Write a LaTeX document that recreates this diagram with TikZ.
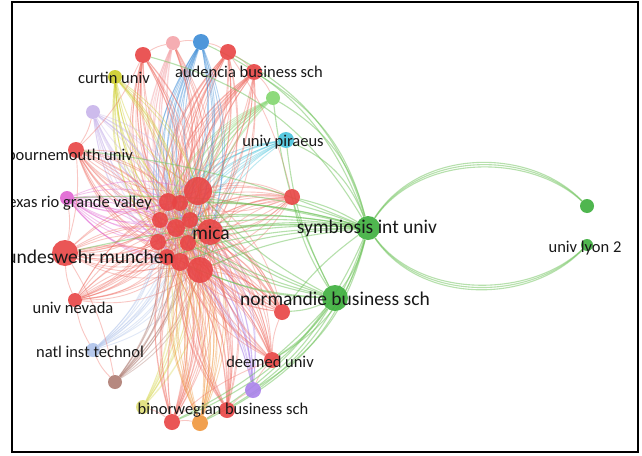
\documentclass[tikz,border=0pt]{standalone}
\usepackage{fontspec}
\setmainfont{Carlito}
\usetikzlibrary{backgrounds}
\definecolor{cR}{RGB}{232,68,68}
\definecolor{cPk}{RGB}{245,165,170}
\definecolor{cB}{RGB}{60,140,215}
\definecolor{cLG}{RGB}{130,215,110}
\definecolor{cC}{RGB}{70,195,220}
\definecolor{cY}{RGB}{205,205,40}
\definecolor{cLav}{RGB}{200,180,235}
\definecolor{cMg}{RGB}{225,100,210}
\definecolor{cLB}{RGB}{175,195,235}
\definecolor{cBr}{RGB}{175,125,115}
\definecolor{cLY}{RGB}{225,225,120}
\definecolor{cOr}{RGB}{240,150,60}
\definecolor{cPu}{RGB}{170,130,235}
\definecolor{cG}{RGB}{60,175,60}
\definecolor{eR}{RGB}{240,110,100}
\definecolor{eG}{RGB}{110,195,90}
\definecolor{lblc}{RGB}{25,25,25}
\begin{document}
\begin{tikzpicture}[x=1pt,y=-1pt,
  nd/.style={circle,inner sep=0pt,minimum size=#1,draw=none},
  lbl/.style={text=lblc,font=\fontsize{16.5}{16.5}\selectfont,inner sep=0pt},
  biglbl/.style={text=lblc,font=\fontsize{19.5}{19.5}\selectfont,inner sep=0pt},
  redge/.style={draw=#1,opacity=0.38,line width=0.9pt},
  gedge/.style={draw=eG,opacity=0.5,line width=1.1pt},
]
\useasboundingbox (0,0) rectangle (642,455);
% nodes
\begin{scope}
\clip (13,3) rectangle (637,451);
\foreach \n/\x/\y/\d/\c in {
  t1/143/55/16/cR, t2/173/43/14/cPk, t3/201/42/16/cB, t4/228/52/16/cR,
  t5/254/72/16/cR, g1/273/98/14/cLG, cy/286/140/16/cC, cu/115/77/14/cY,
  lav/93/112/14/cLav, bo/76/150/16/cR, tx/67/198/14/cMg, r6/292/197/16/cR,
  bu/65/253/26/cR, nv/75/300/14/cR, na/93/350/14/cLB, br/115/382/14/cBr,
  lyy/143/407/14/cLY, b1/172/422/16/cR, or/200/423/16/cOr, b2/227/410/16/cR,
  pu/253/390/16/cPu, de/272/360/16/cR, nr/282/312/16/cR,
  c1/198/191/28/cR, c2/168/202/18/cR, c3/180/203/16/cR, c4/160/220/16/cR,
  c5/176/228/18/cR, c6/190/220/16/cR, c8/158/242/16/cR, c9/188/243/16/cR,
  c10/167/257/16/cR, c11/180/262/18/cR, c7/210/232/26/cR, c12/200/270/26/cR,
  sym/368/228/24/cG, norm/335/298/26/cG, l1/587/206/14/cG, l2/587/245/12/cG}
  \node[nd=\d pt,fill=\c,fill opacity=0.9] (\n) at (\x,\y) {};
\end{scope}
% edges
\begin{scope}[on background layer]
\fill[white] (0,0) rectangle (642,455);
\clip (13,3) rectangle (637,451);
\foreach \p/\c in {t1/eR,t2/cPk,t3/cB,t4/eR,t5/eR,g1/cLG,cy/cC,cu/cY,lav/cLav,
  bo/eR,tx/cMg,r6/eR,bu/eR,nv/eR,na/cLB,br/cBr,lyy/cLY,b1/eR,or/cOr,b2/eR,
  pu/cPu,de/eR,nr/eR}
  \foreach \q in {c1,c2,c3,c4,c5,c6,c7,c8,c9,c10,c11,c12}
    \draw[redge=\c] (\q) to[bend left=20] (\p);
\foreach \p/\c in {t1/eR,t2/eR,t3/cB,t4/eR,t5/eR,bo/eR,bu/eR,nv/eR,b1/eR,or/cOr,b2/eR,de/eR,nr/eR,r6/eR,cu/cY,lav/cLav,tx/cMg}
  \foreach \q in {c1,c3,c5,c7,c9,c11,c12}
    \draw[redge=\c] (\q) to[bend right=18] (\p);
\foreach \a/\b in {t1/t2,t2/t3,t3/t4,t4/t5,t5/g1,bo/bu,tx/bu,lav/bo,nv/bu,na/nv,
  br/na,lyy/b1,b1/or,or/b2,b2/pu,pu/de,de/nr,t1/bo,bu/br,t4/r6,b1/de}
  \draw[redge=eR] (\a) to[bend left=10] (\b);
% green edges from symbiosis and normandie
\foreach \p in {t3,t4,t5,g1,cy,t1}
  \draw[gedge] (sym) to[bend right=22] (\p);
\foreach \p in {b2,or,pu,de,b1}
  \draw[gedge] (sym) to[bend left=22] (\p);
\foreach \p in {c1,c2,c3,c4,c5,c6,c7,c8,c9,c10,c11,c12,r6,nr,bu,bo,tx}
  \draw[gedge] (sym) to[bend right=8] (\p);
\foreach \p in {c1,c3,c5,c7,c9,c11,c12,r6,nr,de,pu,cy,g1,b1,or}
  \draw[gedge] (norm) to[bend left=10] (\p);
\draw[gedge] (sym) to[bend left=10] (norm);
% to univ lyon 2
\foreach \o in {-3,0,3}{
  \draw[gedge,line width=1.1pt] (sym) .. controls (420,150+\o) and (530,150+\o) .. (l1);
  \draw[gedge,line width=1.1pt] (sym) .. controls (420,302+\o) and (530,302+\o) .. (l2);
}
\end{scope}
% labels
\begin{scope}
\clip (13,3) rectangle (637,451);
\node[lbl] (Lcu) at (114,78) {curtin univ};
\node[lbl] (Lau) at (249,72) {audencia business sch};
\node[lbl] (Lpi) at (283,142) {univ piraeus};
\node[lbl,anchor=east] (Lbo) at (133,155) {bournemouth univ};
\node[lbl,anchor=east] (Ltx) at (152,203) {exas rio grande valley};
\node[biglbl,anchor=east] (Lbu) at (174,257) {undeswehr munchen};
\node[biglbl] (Lmi) at (211,233) {mica};
\node[biglbl] (Lsy) at (367,228) {symbiosis int univ};
\node[biglbl] (Lno) at (335,299) {normandie business sch};
\node[lbl] (Lnv) at (73,308) {univ nevada};
\node[lbl] (Lna) at (90,352) {natl inst technol};
\node[lbl] (Lde) at (270,362) {deemed univ};
\node[lbl] (Lbi) at (223,410) {binorwegian business sch};
\node[lbl] (Lly) at (585,248) {univ lyon 2};
\end{scope}
\draw[line width=2pt] (12,2) rectangle (638,452);
\end{tikzpicture}
\end{document}
